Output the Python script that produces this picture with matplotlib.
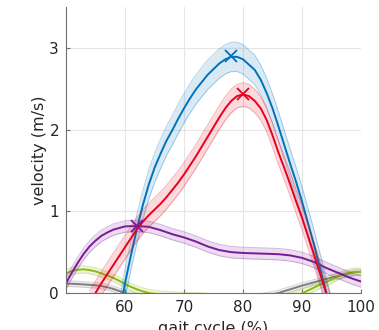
import matplotlib
matplotlib.use("Agg")
import matplotlib.pyplot as plt
import numpy as np

# ---- data ----
blue_x = [59, 60, 61, 62, 63, 64, 65, 66, 67, 68, 69, 70, 71, 72, 74, 76, 77, 78, 79, 80, 82, 83, 84, 85, 86, 87, 88, 89, 90, 91, 92, 93, 94, 95]
blue_y = [-0.3, 0.12, 0.46, 0.78, 1.07, 1.32, 1.53, 1.70, 1.86, 1.99, 2.13, 2.26, 2.38, 2.49, 2.67, 2.81, 2.86, 2.89, 2.89, 2.86, 2.73, 2.61, 2.45, 2.26, 2.04, 1.81, 1.58, 1.36, 1.12, 0.86, 0.60, 0.32, 0.04, -0.25]
blue_sd = 0.18

red_x = [54, 55, 56, 57, 58, 59, 60, 61, 62, 63, 64, 65, 66, 67, 68, 69, 70, 71, 72, 73, 74, 75, 76, 77, 78, 79, 80, 81, 82, 83, 84, 85, 86, 87, 88, 89, 90, 91, 92, 93, 94, 95]
red_y = [-0.12, 0.0, 0.12, 0.23, 0.34, 0.45, 0.56, 0.67, 0.78, 0.87, 0.95, 1.02, 1.09, 1.17, 1.26, 1.35, 1.45, 1.56, 1.67, 1.79, 1.91, 2.03, 2.15, 2.26, 2.35, 2.41, 2.43, 2.41, 2.35, 2.26, 2.12, 1.93, 1.72, 1.53, 1.33, 1.12, 0.92, 0.70, 0.48, 0.25, 0.02, -0.2]
red_sd = 0.145

purple_x = [50, 51, 52, 53, 54, 55, 56, 57, 58, 60, 62, 64, 66, 68, 70, 72, 74, 76, 78, 80, 82, 84, 86, 88, 90, 92, 94, 96, 98, 100]
purple_y = [0.12, 0.25, 0.37, 0.48, 0.57, 0.64, 0.70, 0.74, 0.775, 0.815, 0.82, 0.81, 0.77, 0.72, 0.68, 0.63, 0.57, 0.525, 0.50, 0.49, 0.485, 0.48, 0.475, 0.46, 0.43, 0.38, 0.31, 0.25, 0.19, 0.14]
purple_sd = 0.07

green_x = [50, 51, 52, 53, 54, 55, 56, 57, 58, 59, 60, 61, 62, 63, 64, 66, 68, 70, 72, 76, 80, 84, 88, 90, 91, 92, 93, 94, 95, 96, 97, 98, 99, 100]
green_y = [0.24, 0.27, 0.285, 0.29, 0.28, 0.265, 0.24, 0.215, 0.185, 0.15, 0.11, 0.075, 0.045, 0.02, 0.0, -0.02, -0.03, -0.035, -0.04, -0.06, -0.08, -0.08, -0.05, -0.005, 0.03, 0.065, 0.10, 0.13, 0.165, 0.20, 0.23, 0.25, 0.26, 0.26]
green_sd = 0.045

gray_x = [50, 52, 54, 55, 56, 57, 58, 59, 60, 61, 62, 66, 70, 74, 78, 82, 84, 86, 88, 90, 92, 94, 96, 98, 99, 100]
gray_y = [0.115, 0.11, 0.10, 0.095, 0.085, 0.07, 0.05, 0.025, 0.0, -0.02, -0.04, -0.08, -0.10, -0.10, -0.08, -0.05, -0.03, 0.0, 0.045, 0.09, 0.13, 0.17, 0.205, 0.24, 0.255, 0.26]
gray_sd = 0.035

peaks_x = [78, 80, 62]
peaks_y = [2.90, 2.43, 0.82]

x_ticks = [60, 70, 80, 90, 100]
y_ticks = [0, 1, 2, 3]

c_blue = "#0072BD"
c_red = "#E8001C"
c_purple = "#7A1A99"
c_green = "#8DBA0B"
c_gray = "#7F7F7F"

fig = plt.figure(figsize=(3.79, 3.30), dpi=100)
ax = fig.add_axes([66 / 379, 37 / 330, (361 - 66) / 379, (293 - 7) / 330])

def band(x, y, sd, c, z):
    x = np.asarray(x, float)
    y = np.asarray(y, float)
    ax.fill_between(x, y - sd, y + sd, color=c, alpha=0.15, lw=0, zorder=z)
    ax.plot(x, y - sd, color=c, alpha=0.3, lw=0.7, zorder=z)
    ax.plot(x, y + sd, color=c, alpha=0.3, lw=0.7, zorder=z)
    ax.plot(x, y, color=c, lw=1.4, zorder=z + 0.5)

band(gray_x, gray_y, gray_sd, c_gray, 2)
band(green_x, green_y, green_sd, c_green, 3)
band(purple_x, purple_y, purple_sd, c_purple, 4)
band(blue_x, blue_y, blue_sd, c_blue, 5)
band(red_x, red_y, red_sd, c_red, 6)

for px, py, c in zip(peaks_x, peaks_y, [c_blue, c_red, c_purple]):
    ax.plot([px], [py], marker="x", ms=9, mew=1.3, color=c, ls="none", zorder=10)

ax.set_xlim(50, 100)
ax.set_ylim(0, 3.5)
ax.set_xticks(x_ticks)
ax.set_yticks(y_ticks)
ax.grid(True, color="#e6e6e6", lw=0.8, zorder=0)
ax.set_axisbelow(True)
for s in ["top", "right"]:
    ax.spines[s].set_visible(False)
for s in ["left", "bottom"]:
    ax.spines[s].set_color("#707070")
    ax.spines[s].set_linewidth(0.8)
    ax.spines[s].set_zorder(12)
ax.tick_params(direction="in", length=3, width=0.8, color="#707070",
               labelsize=11, labelcolor="#262626", pad=5)
ax.set_xlabel("gait cycle (%)", fontsize=11.5, color="#262626", labelpad=4)
ax.set_ylabel("velocity (m/s)", fontsize=11.5, color="#262626", labelpad=2)

fig.savefig("out.png", dpi=100)
